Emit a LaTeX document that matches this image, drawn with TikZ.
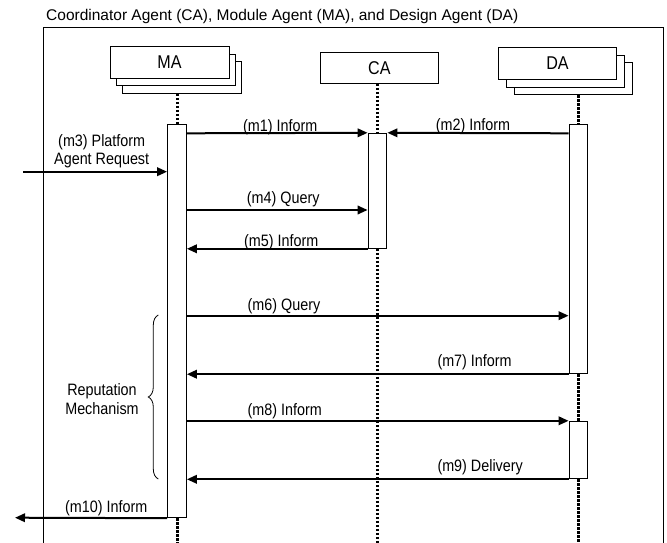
\documentclass[tikz,border=0pt]{standalone}
\usepackage{fontspec}
\setmainfont{Liberation Sans}
\newfontfamily\condfont[FakeStretch=0.87]{Liberation Sans}
\usetikzlibrary{arrows.meta,decorations.pathreplacing}
\begin{document}
\begin{tikzpicture}[x=1pt,y=-1pt,
  frame/.style={line width=1pt},
  agentbox/.style={draw,line width=1pt,fill=white,inner sep=0pt,font=\condfont\fontsize{18.5}{20}\selectfont},
  act/.style={draw,line width=1pt,fill=white,minimum width=18.8pt,inner sep=0pt},
  life/.style={line width=3pt,dash pattern=on 2.5pt off 1.5pt},
  msg/.style={line width=2pt,-{Triangle[length=10pt,width=8.5pt]}},
  lbl/.style={font=\condfont\fontsize{16.5}{19}\selectfont,inner sep=0pt,anchor=base west},
  lbltwo/.style={font=\condfont\fontsize{16.5}{17.6}\selectfont,inner sep=0pt,align=center},
]
\useasboundingbox (0,0) rectangle (667,543);
% title and frame
\node[font=\fontsize{15.5}{18}\selectfont,inner sep=0pt,anchor=base west] (title) at (46,20.7) {Coordinator Agent (CA), Module Agent (MA), and Design Agent (DA)};
\draw[frame] (43,543) -- (43,28) -- (663.5,28) -- (663.5,543);
% agents
\node[agentbox,minimum width=119pt,minimum height=31.6pt] (ma3) at (181.5,77.5) {};
\node[agentbox,minimum width=119pt,minimum height=31.6pt] (ma2) at (175.5,70) {};
\node[agentbox,minimum width=119pt,minimum height=31.6pt] (ma) at (169.5,62.5) {MA};
\node[agentbox,minimum width=117.3pt,minimum height=30.6pt] (ca) at (379.35,68) {CA};
\node[agentbox,minimum width=118.4pt,minimum height=32pt] (da3) at (573.5,78.9) {};
\node[agentbox,minimum width=118.4pt,minimum height=32pt] (da2) at (565.5,71.1) {};
\node[agentbox,minimum width=118.4pt,minimum height=32pt] (da) at (557.5,63.3) {DA};
% activations
\node[act,minimum height=393.7pt] (maact) at (177,320.85) {};
\node[act,minimum height=115pt] (caact) at (377.5,190.8) {};
\node[act,minimum height=249.7pt] (daact1) at (578.5,248.85) {};
\node[act,minimum height=57.5pt] (daact2) at (578.5,450.05) {};
% lifelines
\coordinate (bot) at (0,545);
\draw[life] (maact.north |- ma3.south) -- (maact.north);
\draw[life] (maact.south) -- (maact.south |- bot);
\draw[life] (caact.north |- ca.south) -- (caact.north);
\draw[life] (caact.south) -- (caact.south |- bot);
\draw[life] (daact1.north |- da3.south) -- (daact1.north);
\draw[life] (daact1.south) -- (daact2.north);
\draw[life] (daact2.south) -- (daact2.south |- bot);
% message rows
\coordinate (r1) at (0,133.3);
\coordinate (in3) at (23.3,171.7);
\coordinate (r4) at (0,210);
\coordinate (r6) at (0,315.7);
\coordinate (out10) at (15,517.7);
% messages
\draw[msg] (maact.east |- r1) -- (caact.north west);
\draw[msg] (daact1.west |- r1) -- (caact.north east);
\draw[msg] (in3) -- (maact.west |- in3);
\draw[msg] (maact.east |- r4) -- (caact.west |- r4);
\draw[msg] (caact.south west) -- (maact.east |- caact.south);
\draw[msg] (maact.east |- r6) -- (daact1.west |- r6);
\draw[msg] (daact1.south west) -- (maact.east |- daact1.south);
\draw[msg] (maact.east |- daact2.north) -- (daact2.north west);
\draw[msg] (daact2.south west) -- (maact.east |- daact2.south);
\draw[msg] (maact.south west) -- (out10);
% labels
\node[lbl] (l1) at (243,131.7) {(m1) Inform};
\node[lbl] (l2) at (435.7,130) {(m2) Inform};
\node[lbltwo,anchor=base] (l3) at (101.7,164.3) {(m3) Platform\\Agent Request};
\node[lbl] (l4) at (246.7,203.5) {(m4) Query};
\node[lbl] (l5) at (244,246) {(m5) Inform};
\node[lbl] (l6) at (247.5,310) {(m6) Query};
\node[lbl] (l7) at (437.3,366.7) {(m7) Inform};
\node[lbl] (l8) at (247.5,415) {(m8) Inform};
\node[lbl] (l9) at (437.3,471.7) {(m9) Delivery};
\node[lbl] (l10) at (65,512.7) {(m10) Inform};
% reputation mechanism
\coordinate (bb) at (158.3,479);
\coordinate (bt) at (158.3,315);
\draw[line width=0.8pt,decorate,decoration={brace,amplitude=10pt}] (bb) -- (bt);
\node[font=\condfont\fontsize{16.5}{19}\selectfont,inner sep=0pt,align=center,anchor=base] (rep) at (102,414) {Reputation\\Mechanism};
\end{tikzpicture}
\end{document}
